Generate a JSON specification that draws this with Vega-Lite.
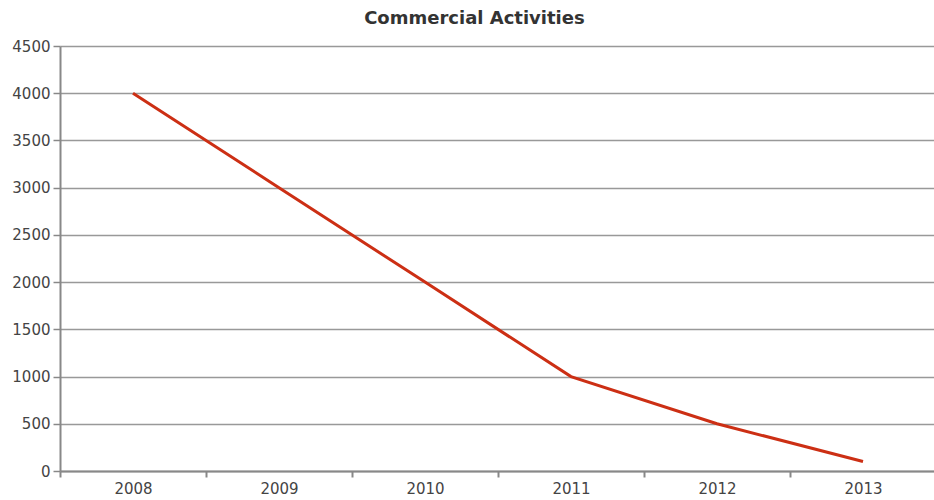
{
  "$schema": "https://vega.github.io/schema/vega-lite/v6.json",
  "width": 874,
  "height": 425,
  "autosize": {"type": "none"},
  "padding": {"left": 60, "top": 46, "right": 0, "bottom": 29},
  "background": "white",
  "title": {
    "text": "Commercial Activities",
    "font": "DejaVu Sans",
    "fontSize": 18,
    "fontWeight": "bold",
    "color": "#333333",
    "anchor": "middle",
    "frame": "bounds",
    "offset": 11
  },
  "data": {
    "values": [
      {"year": "2008", "value": 4000},
      {"year": "2009", "value": 3000},
      {"year": "2010", "value": 2000},
      {"year": "2011", "value": 1000},
      {"year": "2012", "value": 500},
      {"year": "2013", "value": 100}
    ]
  },
  "config": {
    "view": {"stroke": null},
    "axis": {
      "labelFont": "DejaVu Sans",
      "labelFontSize": 15,
      "labelColor": "#444444",
      "domainColor": "#888888",
      "tickColor": "#888888",
      "gridColor": "#999999"
    }
  },
  "mark": {"type": "line", "color": "#cc2f14", "strokeWidth": 3},
  "encoding": {
    "x": {
      "field": "year",
      "type": "ordinal",
      "scale": {"range": [0, 876], "paddingInner": 0, "paddingOuter": 0},
      "axis": {
        "title": null,
        "labelAngle": 0,
        "tickBand": "extent",
        "tickSize": 6,
        "tickWidth": 2,
        "domainWidth": 2,
        "labelPadding": 4,
        "grid": false
      }
    },
    "y": {
      "field": "value",
      "type": "quantitative",
      "scale": {"domain": [0, 4500], "nice": false},
      "axis": {
        "title": null,
        "format": "d",
        "values": [0, 500, 1000, 1500, 2000, 2500, 3000, 3500, 4000, 4500],
        "tickSize": 7,
        "tickWidth": 1.5,
        "domainWidth": 2,
        "gridWidth": 1.5,
        "labelPadding": 3
      }
    }
  }
}
